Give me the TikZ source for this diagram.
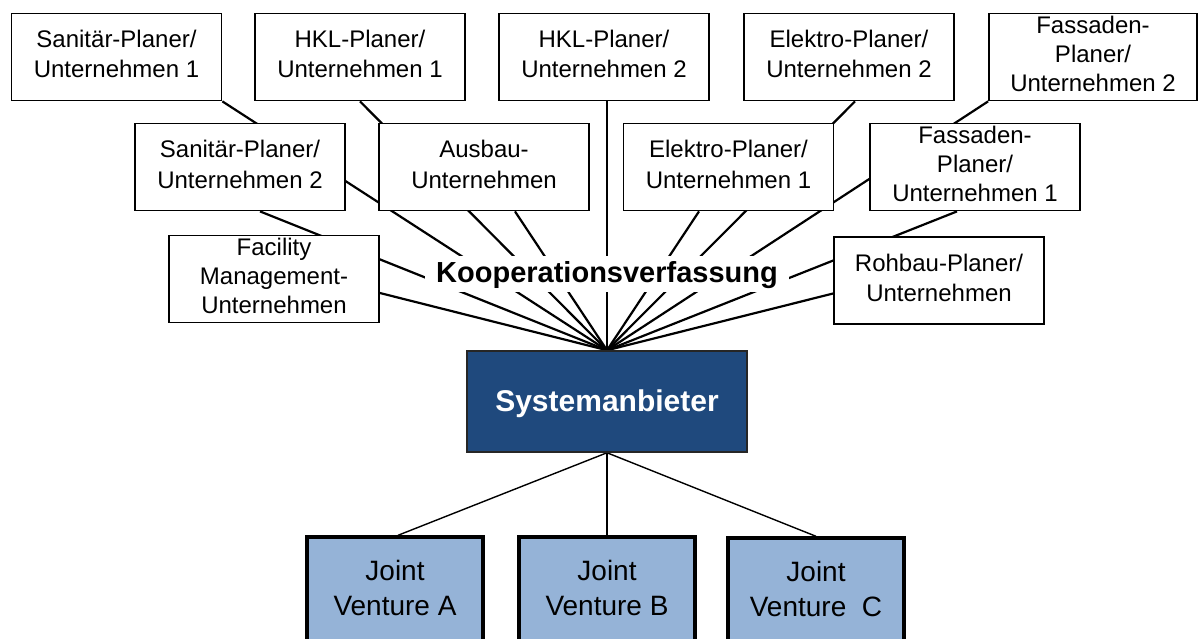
\documentclass[tikz,border=0pt]{standalone}
\usepackage{fontspec}
\setmainfont{Liberation Sans}
\usetikzlibrary{backgrounds,calc}
\definecolor{sysblue}{HTML}{1F497D}
\definecolor{jvblue}{HTML}{95B3D7}

\begin{document}
\begin{tikzpicture}[x=1pt,y=-1pt,
  partner/.style={draw,line width=1.8pt,fill=white,minimum width=210pt,
    minimum height=87pt,inner sep=0pt,align=center,
    font=\fontsize{24}{30}\selectfont},
  partnerthree/.style={partner,font=\fontsize{24}{29}\selectfont},
  venture/.style={draw,line width=3.4pt,fill=jvblue,minimum width=176pt,
    minimum height=107pt,inner sep=0pt,align=center,
    font=\fontsize{28}{35}\selectfont},
  link/.style={line width=2.2pt},
  jvlink/.style={line width=1.4pt},
]
\useasboundingbox (0,0) rectangle (1198,639);

% partners of the cooperation, top row
\node[partner] (san1) at (116.5,57) {\strut Sanitär-Planer/\\\strut Unternehmen 1};
\node[partner] (hkl1) at (360,57) {\strut HKL-Planer/\\\strut Unternehmen 1};
\node[partner] (hkl2) at (604,57) {\strut HKL-Planer/\\\strut Unternehmen 2};
\node[partner] (ele2) at (849,57) {\strut Elektro-Planer/\\\strut Unternehmen 2};
\node[partnerthree,minimum width=208pt] (fas2) at (1093,57)
  {\strut Fassaden-\\\strut Planer/\\\strut Unternehmen 2};

% second row
\node[partner] (san2) at (240,167) {\strut Sanitär-Planer/\\\strut Unternehmen 2};
\node[partner] (ausbau) at (484,167) {\strut Ausbau-\\\strut Unternehmen};
\node[partner] (ele1) at (728.5,167) {\strut Elektro-Planer/\\\strut Unternehmen 1};
\node[partnerthree] (fas1) at (975,167)
  {\strut Fassaden-\\\strut Planer/\\\strut Unternehmen 1};

% third row
\node[partnerthree] (facility) at (274,279)
  {\strut Facility\\\strut Management-\\\strut Unternehmen};
\node[partner] (rohbau) at (939,280.5) {\strut Rohbau-Planer/\\\strut Unternehmen};

% system provider
\node[draw=black!85,line width=1.5pt,fill=sysblue,minimum width=280pt,
  minimum height=101pt,inner sep=0pt,text=white,
  font=\bfseries\fontsize{30}{36}\selectfont,
  text height=19pt,text depth=0pt] (sys) at (607,401.5) {Systemanbieter};

% cooperation label over the fan of connectors
\node[fill=white,inner xsep=11pt,inner ysep=0pt,text height=26pt,
  text depth=10pt,font=\bfseries\fontsize{29}{35}\selectfont]
  (koop) at (607,274) {Kooperationsverfassung};

% joint ventures
\node[venture] (jva) at (395,590.5) {\strut Joint\\\strut Venture A};
\node[venture] (jvb) at (607,590.5) {\strut Joint\\\strut Venture B};
\node[venture] (jvc) at (816,591.5) {\strut Joint\\\strut Venture\ \ C};

% connectors
\begin{scope}[on background layer]
  \draw[link] (san1.south east) -- (sys.north);
  \draw[link] (hkl1.south) -- (sys.north);
  \draw[link] (hkl2.south -| sys.north) -- (sys.north);
  \draw[link] ($(ele2.south)+(6,0)$) -- (sys.north);
  \draw[link] (fas2.south west) -- (sys.north);
  \draw[link] ($(san2.south)+(20,0)$) -- (sys.north);
  \draw[link] ($(ausbau.south)+(31,0)$) -- (sys.north);
  \draw[link] ($(ele1.south)+(-29.5,0)$) -- (sys.north);
  \draw[link] ($(fas1.south)+(-18,0)$) -- (sys.north);
  \draw[link] ($(facility.east)+(0,14)$) -- (sys.north);
  \draw[link] ($(rohbau.west)+(0,13)$) -- (sys.north);
  \draw[jvlink] (sys.south) -- ($(jva.north)+(3,0)$);
  \draw[jvlink] (sys.south) -- (jvb.north);
  \draw[jvlink] (sys.south) -- (jvc.north);
\end{scope}
\end{tikzpicture}
\end{document}
